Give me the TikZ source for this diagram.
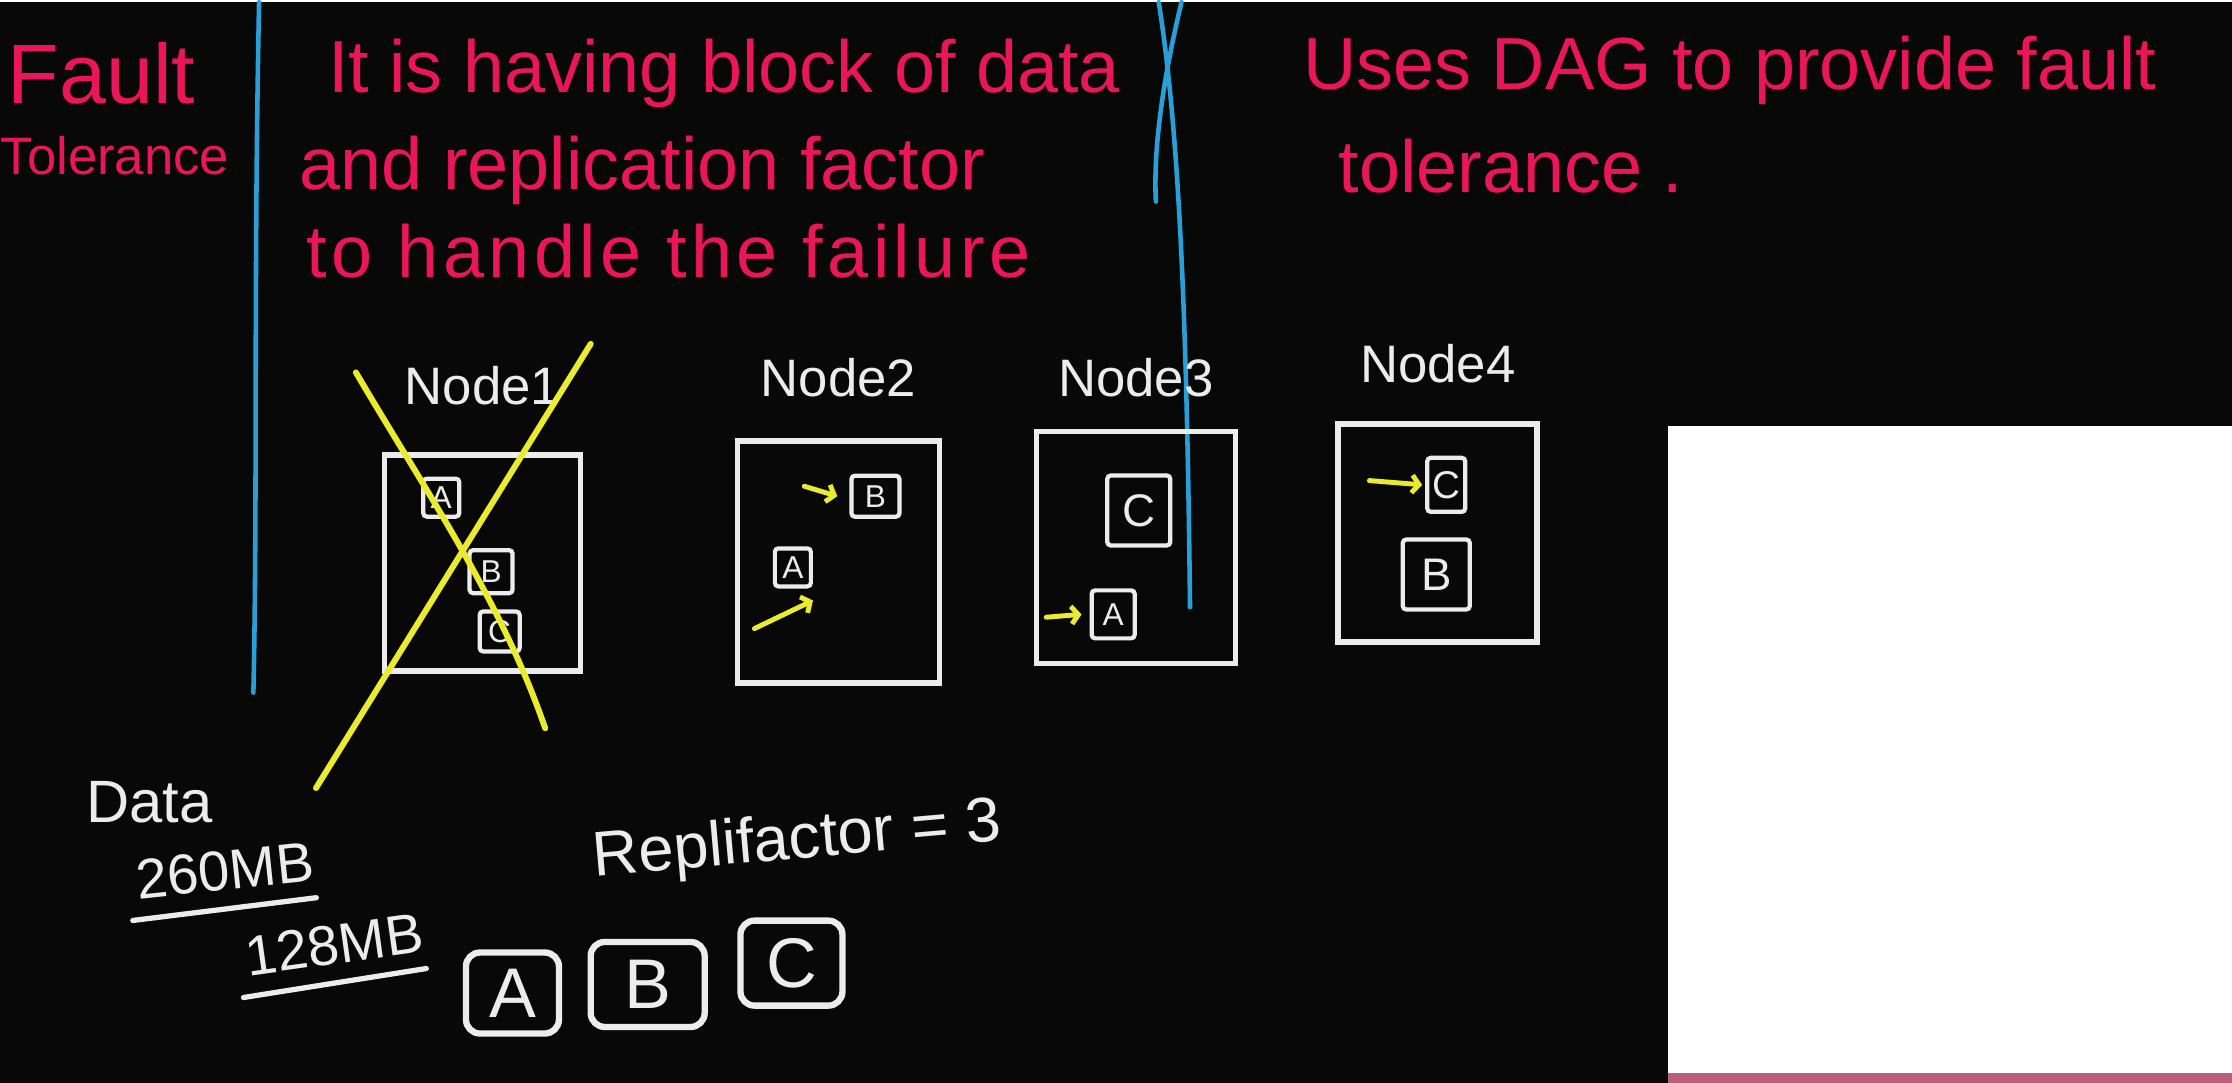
\documentclass[tikz,border=0pt]{standalone}
\usepackage{fontspec}
\setmainfont{Liberation Sans}
\usetikzlibrary{positioning,arrows.meta}
\definecolor{board}{RGB}{8,8,8}
\definecolor{ink}{RGB}{236,236,236}
\definecolor{pinkink}{RGB}{235,22,90}
\definecolor{blueink}{RGB}{40,160,215}
\definecolor{yellowink}{RGB}{235,235,45}
\definecolor{camstrip}{RGB}{185,95,125}

\begin{document}
\begin{tikzpicture}[x=0.14235mm,y=-0.14235mm,
  every node/.style={inner sep=0pt},
  note/.style={text=pinkink,font=\fontsize{21}{25}\selectfont,anchor=west},
  lbl/.style={text=ink,font=\fontsize{15}{18}\selectfont},
  memo/.style={text=ink,font=\fontsize{17}{20}\selectfont},
  server/.style={draw=ink,line width=1.6pt},
  blk/.style={draw=ink,line width=1.2pt,text=ink,font=\fontsize{9}{10}\selectfont,rounded corners=1pt},
  tile/.style={draw=ink,line width=1.8pt,text=ink,font=\fontsize{20}{22}\selectfont,rounded corners=4pt},
  divider/.style={blueink,line width=1.3pt,line cap=round},
  cross/.style={yellowink,line width=1.7pt,line cap=round},
  move/.style={-{Straight Barb[length=2pt,width=5pt]},yellowink,line width=1.4pt,line cap=round},
  pen/.style={ink,line width=1.5pt,line cap=round}]
\fill[board] (0,0) rectangle (1568,759);

\node[note,font=\fontsize{24}{28}\selectfont] (fault) at (5,50) {Fault};
\node[note,font=\fontsize{15}{18}\selectfont] (tol)   at (0,108) {Tolerance};
\node[note] (hd1) at (230,50)  {It is having block of data};
\node[note] (hd2) at (210,118) {and replication factor};
\node[note] (hd3) at (215,175) {\addfontfeature{LetterSpace=6}to handle the failure};
\node[note] (sp1) at (915,48)  {Uses DAG to provide fault};
\node[note] (sp2) at (940,115) {tolerance .};

\draw[divider] (182,0) .. controls (178,200) and (181,350) .. (178,485);
\draw[divider] (830,0) .. controls (818,50) and (810,100) .. (812,140);
\draw[divider] (814,0) .. controls (830,100) and (834,250) .. (836,425);

\node[server,minimum width=19.6mm,minimum height=21.6mm] (node1) at (339,394) {};
\node[server,minimum width=20.2mm,minimum height=24.2mm] (node2) at (589,393) {};
\node[server,minimum width=19.9mm,minimum height=23.2mm] (node3) at (798,383) {};
\node[server,minimum width=19.9mm,minimum height=21.8mm] (node4) at (1010,373) {};
\node[lbl,above=4.7mm of node1] (lab1) {Node1};
\node[lbl,above=4mm of node2]   (lab2) {Node2};
\node[lbl,above=3.1mm of node3] (lab3) {Node3};
\node[lbl,above=3.8mm of node4] (lab4) {Node4};

\node[blk,minimum width=3.6mm,minimum height=3.8mm] (a1) at (310,348) {A};
\node[blk,minimum size=4.3mm] (b1) at (345,400) {B};
\node[blk,minimum size=4mm]   (c1) at (351,442) {C};
\node[blk,minimum width=4.8mm,minimum height=4.1mm] (b2) at (615,347) {B};
\node[blk,minimum width=3.6mm,minimum height=3.8mm] (a2) at (557,397) {A};
\node[blk,minimum width=6.3mm,minimum height=7mm,font=\fontsize{13}{14}\selectfont] (c3) at (800,357) {C};
\node[blk,minimum width=4.3mm,minimum height=4.8mm] (a3) at (782,430) {A};
\node[blk,minimum width=3.8mm,minimum height=5.4mm,font=\fontsize{11}{12}\selectfont] (c4) at (1016,339) {C};
\node[blk,minimum width=6.7mm,minimum height=7mm,font=\fontsize{13}{14}\selectfont] (b4) at (1009,402) {B};

\coordinate (in2b) at (565,340);
\coordinate (in2a) at (530,440);
\coordinate (in3a) at (735,432);
\coordinate (in4c) at (962,336);
\draw[move] (in2b) -- ([xshift=-1.2mm]b2.west);
\draw[move] (in2a) -- ([yshift=-1.2mm]a2.south east);
\draw[move] (in3a) -- ([xshift=-0.8mm]a3.west);
\draw[move] (in4c) -- ([xshift=-0.3mm]c4.west);

\draw[cross] (250,260) .. controls (300,345) and (352,420) .. (383,510);
\draw[cross] (415,240) -- (222,552);

\node[memo,anchor=west] (data) at (60,562) {Data};
\node[memo,font=\fontsize{16}{19}\selectfont,rotate=6] (m260) at (158,610) {260MB};
\node[memo,font=\fontsize{16}{19}\selectfont,rotate=8] (m128) at (235,662) {128MB};
\draw[pen] ([xshift=-0.5mm,yshift=-2mm]m260.south west) -- ([yshift=-1.6mm]m260.south east);
\draw[pen] ([xshift=-0.5mm,yshift=-2mm]m128.south west) -- ([yshift=-1.6mm]m128.south east);
\node[memo,font=\fontsize{18}{21}\selectfont,rotate=5] (repl) at (560,590) {Replifactor = 3};

\node[tile,minimum width=9.3mm,minimum height=8.1mm]  (ta) at (360,696) {A};
\node[tile,minimum width=11.4mm,minimum height=8.5mm] (tb) at (455,690) {B};
\node[tile,minimum width=10.2mm,minimum height=8.5mm] (tc) at (556,675) {C};

\fill[white] (1172,298) rectangle (1568,752);
\fill[camstrip] (1172,752) rectangle (1568,759);
\end{tikzpicture}
\end{document}
